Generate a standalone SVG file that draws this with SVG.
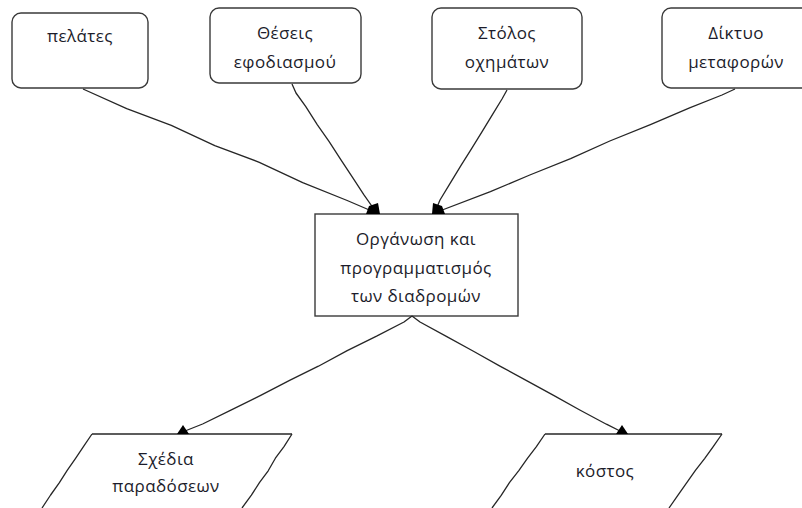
<svg xmlns="http://www.w3.org/2000/svg" width="802" height="508" viewBox="0 0 802 508">
  <defs>
    <style>
      .box { fill: #ffffff; stroke: #3a3a3a; stroke-width: 1.4; }
      .edge { fill: none; stroke: #262626; stroke-width: 1.3; stroke-linejoin: round; }
      .side { fill: none; stroke: #262626; stroke-width: 1.3; stroke-linejoin: round; }
      .head { fill: #000000; }
      .lbl { font-family: "Open Sans", "Noto Sans", "DejaVu Sans", sans-serif; font-size: 17px; letter-spacing: 0.4px; fill: #1c1c2a; text-anchor: middle; }
    </style>
  </defs>

  <rect width="802" height="508" fill="#ffffff"/>

  <!-- input boxes -->
  <g id="node-pelates">
    <rect class="box" x="12" y="13" width="136" height="75" rx="9"/>
    <text class="lbl" x="80" y="42">πελάτες</text>
  </g>

  <g id="node-theseis">
    <rect class="box" x="210" y="8" width="151" height="75" rx="9"/>
    <text class="lbl" x="285" y="39">Θέσεις</text>
    <text class="lbl" x="285" y="68">εφοδιασμού</text>
  </g>

  <g id="node-stolos">
    <rect class="box" x="432" y="8" width="150" height="81" rx="9"/>
    <text class="lbl" x="507" y="39">Στόλος</text>
    <text class="lbl" x="507" y="68">οχημάτων</text>
  </g>

  <g id="node-diktyo">
    <rect class="box" x="662" y="8" width="150" height="80" rx="9"/>
    <text class="lbl" x="736" y="39">Δίκτυο</text>
    <text class="lbl" x="736" y="68">μεταφορών</text>
  </g>

  <!-- central process -->
  <g id="node-organosi">
    <rect class="box" x="315" y="214" width="203" height="102"/>
    <text class="lbl" x="416" y="245">Οργάνωση και</text>
    <text class="lbl" x="416" y="274">προγραμματισμός</text>
    <text class="lbl" x="416" y="302">των διαδρομών</text>
  </g>

  <!-- outputs (parallelograms running off the bottom edge) -->
  <g id="node-schedia">
    <path d="M42,508 L92,434 L292,434 L242,508 Z" fill="#ffffff"/>
    <path class="side" d="M292,434 L284,446.6 L275.4,458.2 L268.2,470.8 L259.6,482.4 L251.4,495.2 L242,508"/>
    <path class="side" d="M92,434 L83.6,446.4 L75.4,458.6 L67.2,470.4 L59.4,482.6 L50.6,495 L42,508"/>
    <path class="side" d="M92,434 L292,434"/>
    <text class="lbl" x="166" y="465">Σχέδια</text>
    <text class="lbl" x="166" y="492">παραδόσεων</text>
  </g>

  <g id="node-kostos">
    <path d="M492,508 L545,434 L722,434 L669,508 Z" fill="#ffffff"/>
    <path class="side" d="M545,434 L536.4,446.6 L527.6,458.2 L518.8,470.6 L509.6,482.4 L501.2,495.4 L492,508"/>
    <path class="side" d="M722,434 L713.4,446.4 L704.6,458.6 L695.6,470.2 L686.8,482.6 L678,495.2 L669,508"/>
    <path class="side" d="M545,434 L722,434"/>
    <text class="lbl" x="605" y="477">κόστος</text>
  </g>

  <!-- connectors -->
  <g id="connectors">
    <path class="edge" d="M83,89 L126.7,108.7 L171.3,125.3 L214.8,145.6 L259.3,162.3 L302.7,182.6 L347.2,200.5 L374,212"/>
    <path class="edge" d="M292,84 L296,93 L305.8,106.6 L317.4,124.8 L329,141.4 L340.8,159.6 L352.2,176.8 L363.8,194.6 L376,212"/>
    <path class="edge" d="M507,90 L502,99 L492.6,114.4 L482.4,131.2 L471.6,148.6 L461.2,165.2 L450.4,182.8 L440,200 L435,212"/>
    <path class="edge" d="M735,89 L722,95 L689.6,107.8 L650.4,124.6 L609.8,141 L570.6,158.6 L529.8,175 L490.4,191.6 L437,212"/>
    <path class="edge" d="M412,316 L404,322 L376.6,336.2 L347.2,350.6 L318.4,366.2 L289.6,380.4 L260.2,395.6 L231.4,409.8 L202.6,424 L185,431"/>
    <path class="edge" d="M412,316 L420,322 L446.8,336.6 L473,351 L500.4,366.4 L526.6,380.6 L553.6,395.4 L579.8,410 L606.4,424.2 L620,431"/>
    <polygon class="head" points="369,206 378,203 380,214 366,214"/>
    <polygon class="head" points="433,203 442,206 445,214 432,214"/>
    <polygon class="head" points="183,425 189,434 177,434"/>
    <polygon class="head" points="622,425 628,434 616,434"/>
  </g>
</svg>
